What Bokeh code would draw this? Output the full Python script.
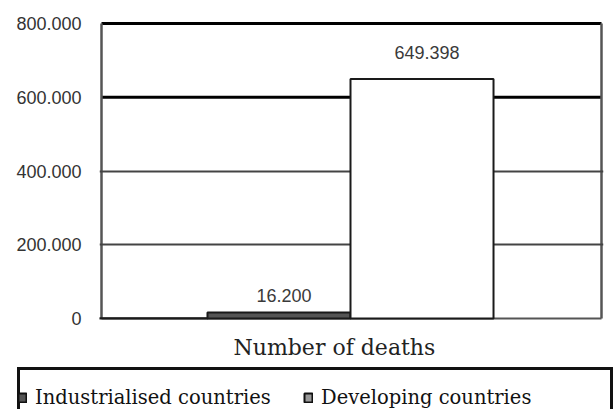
from bokeh.plotting import figure
from bokeh.layouts import column
from bokeh.models import Range1d, FixedTicker, Legend, LegendItem, ColumnDataSource, Label
from bokeh.core.properties import value
from bokeh.embed import file_html
from bokeh.resources import INLINE

# ---- data ----
SERIES = ["Industrialised countries", "Developing countries", "Other"]
DEATHS = [1000, 16200, 649398]
BAR_LABELS = ["", "16.200", "649.398"]
Y_TICKS = [0, 200000, 400000, 600000, 800000]
Y_TICK_LABELS = ["0", "200.000", "400.000", "600.000", "800.000"]
X_LABEL = "Number of deaths"

FILLS = ["#3a3a3a", "#555555", "#ffffff"]

# view geometry
PX_X = 143.0            # pixels per bar slot
PX_Y = 800000 / 295.0   # value per pixel
X0, X1 = 0.245, 3.769
Y0, Y1 = -2 * PX_Y, 800000 + 2 * PX_Y
BX0, BX1 = X0 + 2 / PX_X, X1 - 2 / PX_X

p = figure(frame_width=504, frame_height=299, output_backend="svg", toolbar_location=None,
           x_range=Range1d(X0, X1), y_range=Range1d(Y0, Y1),
           min_border_left=99, min_border_right=13, min_border_top=21, min_border_bottom=10)
p.outline_line_color = None
p.background_fill_color = "white"
p.border_fill_color = "white"

# grid / frame lines
p.xgrid.visible = False
p.ygrid.ticker = FixedTicker(ticks=[200000, 400000])
p.ygrid.grid_line_color = "#444444"
p.ygrid.grid_line_width = 2

p.segment(x0=[BX0, BX0], x1=[BX1, BX1], y0=[600000, 800000], y1=[600000, 800000],
          line_color="#000000", line_width=3, level="underlay")
p.segment(x0=[BX0], x1=[BX1], y0=[0], y1=[0], line_color="#555555", line_width=2, level="underlay")
p.segment(x0=[BX0, BX1], x1=[BX0, BX1], y0=[0, 0], y1=[800000, 800000],
          line_color="#555555", line_width=2.5, level="underlay")

# bars
n = len(SERIES)
src = ColumnDataSource(dict(left=[i for i in range(n)], right=[i + 1 for i in range(n)],
                            top=DEATHS, bottom=[0] * n,
                            fill=FILLS, lab=BAR_LABELS,
                            xc=[i + 0.5 for i in range(n)], off=[0, -11, -20]))
p.quad(left="left", right="right", top="top", bottom="bottom", source=src,
       fill_color="fill", line_color="#1a1a1a", line_width=2)

p.text(x="xc", y="top", text="lab", source=src, y_offset="off", x_offset=5,
       text_align="center", text_baseline="bottom",
       text_font=value("Liberation Sans"), text_font_size="18px", text_color="#3a3a3a")

# axes
p.yaxis.ticker = FixedTicker(ticks=Y_TICKS)
p.yaxis.major_label_overrides = {t: l for t, l in zip(Y_TICKS, Y_TICK_LABELS)}
p.yaxis.axis_line_color = None
p.yaxis.major_tick_line_color = None
p.yaxis.minor_tick_line_color = None
p.yaxis.major_label_standoff = 12
p.yaxis.major_label_text_font = "Liberation Sans"
p.yaxis.major_label_text_font_size = "18px"
p.yaxis.major_label_text_color = "#333333"
p.xaxis.visible = False

# ---- bottom strip: axis title and legend ----
q = figure(frame_width=616, frame_height=79, output_backend="svg", toolbar_location=None,
           x_range=Range1d(0, 616), y_range=Range1d(0, 79),
           min_border_left=0, min_border_right=0, min_border_top=0, min_border_bottom=0)
q.axis.visible = False
q.grid.visible = False
q.outline_line_color = None
q.background_fill_color = "white"
q.border_fill_color = "white"

q.add_layout(Label(x=134, y=62, x_units="screen", y_units="screen", text=X_LABEL,
                   text_align="left", text_baseline="middle",
                   text_font="DejaVu Serif", text_font_size="22px", text_color="#222222"))

sw0 = q.quad(left=[0], right=[0], top=[0], bottom=[0], fill_alpha=0, line_alpha=0)
sw1 = q.quad(left=[0], right=[0], top=[0], bottom=[0], fill_color="#555555", line_color="#111111", line_width=2)
sw2 = q.quad(left=[0], right=[0], top=[0], bottom=[0], fill_color="#999999", line_color="#111111", line_width=2)

common = dict(orientation="horizontal", label_text_font="DejaVu Serif", label_text_font_size="19.5px",
              label_text_color="#111111", glyph_width=10,
              label_standoff=8, spacing=0, padding=10, margin=0)
# outer box: taller than the strip so that its bottom edge falls outside, as in the source
box = Legend(items=[LegendItem(label=" ", renderers=[sw0])], label_width=552, glyph_height=40,
             location=(17, -24),
             border_line_color="#111111", border_line_width=3, border_line_alpha=1,
             background_fill_color="white", background_fill_alpha=1, **common)
items = Legend(items=[LegendItem(label=SERIES[0], renderers=[sw1]),
                      LegendItem(label=SERIES[1], renderers=[sw2])], label_width=268,
               glyph_height=11, location=(17, 0),
               border_line_color=None, background_fill_alpha=0, **common)
q.add_layout(box)
q.add_layout(items)

layout = column(p, q, spacing=0)
open("out.html", "w").write(file_html(layout, INLINE))
